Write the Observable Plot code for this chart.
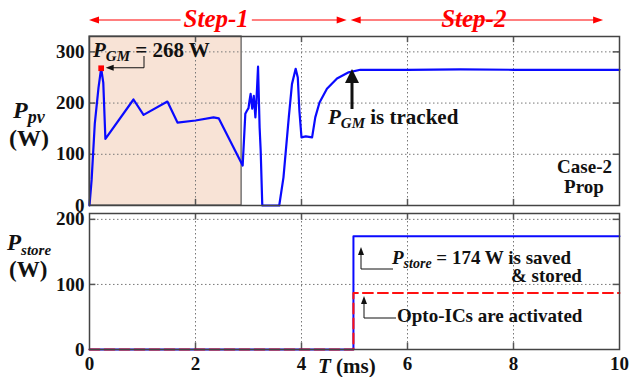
<!DOCTYPE html>
<html><head><meta charset="utf-8">
<script src="https://cdn.jsdelivr.net/npm/d3@7"></script>
<script src="https://cdn.jsdelivr.net/npm/@observablehq/plot@0.6"></script>
<style>
body{margin:0;background:#fff;}
#wrap{position:relative;width:631px;height:377px;overflow:hidden;background:#fff;font-family:"Liberation Serif","Times New Roman",serif;}
#wrap svg{position:absolute;left:0;}
</style></head><body><div id="wrap"></div>
<script>
// ---- data ----
const ppvTime  = [0, 0.04, 0.10, 0.17, 0.22, 0.26, 0.30, 0.83, 1.02, 1.47, 1.66, 2.00, 2.34, 2.44, 2.89, 2.94, 2.97, 3.00, 3.02, 3.04, 3.07, 3.10, 3.13, 3.15, 3.18, 3.21, 3.23, 3.26, 3.58, 3.66, 3.76, 3.82, 3.89, 3.93, 3.96, 4.00, 4.08, 4.20, 4.26, 4.34, 4.48, 4.67, 4.89, 5.11, 6, 7, 8, 9, 10];
const ppvPower = [0, 50, 160, 230, 268, 240, 130, 207, 177, 203, 162, 166, 172, 170, 78, 179, 185, 190, 205, 218, 189, 214, 172, 205, 271, 152, 107, 0, 0, 55, 172, 237, 267, 250, 185, 133, 135, 133, 172, 201, 228, 248, 260, 265, 265, 266, 265, 265, 265];
const peakTime = [0.22];
const peakPower = [268];
const storeTime = [0, 4.98, 10];
const storeSaved = [0, 174, 174];
const storeOpto = [0, 87, 87];
const step1Shade = [0, 2.87];
const xTicks = [0, 2, 4, 6, 8, 10];
const ppvTicks = [0, 100, 200, 300];
const storeTicks = [0, 100, 200];
const stepBoundary = 4.9;

const wrap = document.getElementById("wrap");
const font = {fontFamily:"'Liberation Serif','Times New Roman',serif",fontWeight:"bold",fontSize:"19px",color:"#111",background:"transparent",overflow:"visible"};
const grid = {stroke:"#777",strokeDasharray:"1.5,2.5",strokeWidth:1};
const tk = {stroke:"#555",strokeWidth:1.5};

function innerTicks(xMax, yMax, yTicks, dx, dy) {
  const inner = xTicks.slice(1,-1), yin = yTicks.slice(1).filter(v=>v<yMax);
  return [
    Plot.ruleX(inner, {y1:0, y2:dy, ...tk}),
    Plot.ruleX(inner, {y1:yMax-dy, y2:yMax, ...tk}),
    Plot.ruleY(yin, {x1:0, x2:dx, ...tk}),
    Plot.ruleY(yin, {x1:xMax-dx, x2:xMax, ...tk})
  ];
}

const topData = ppvTime.map((t,i)=>({t, p:ppvPower[i]}));
const topPlot = Plot.plot({
  width:631, height:215, marginLeft:89, marginRight:12, marginTop:36, marginBottom:10,
  style:font,
  x:{domain:[0,10], axis:null},
  y:{domain:[0,330], ticks:ppvTicks, tickSize:0, tickPadding:5, label:null},
  marks:[
    Plot.rect([{a:step1Shade[0], b:step1Shade[1]}], {x1:"a", x2:"b", y1:0, y2:330, fill:"#f8e3d6", stroke:"#555", strokeWidth:1.2}),
    Plot.ruleX(xTicks.slice(1,-1), grid),
    Plot.ruleY(ppvTicks.slice(1), grid),
    ...innerTicks(10, 330, ppvTicks, 0.12, 12),
    Plot.line(topData, {x:"t", y:"p", stroke:"#0a0aff", strokeWidth:2.2}),
    Plot.dot(peakTime.map((t,i)=>({t, p:peakPower[i]})), {x:"t", y:"p", symbol:"square", fill:"#ff0000", r:3.2}),
    Plot.frame({stroke:"#444", strokeWidth:1.5})
  ]
});
topPlot.style.top = "0px";
wrap.appendChild(topPlot);

const saved = storeTime.map((t,i)=>({t, p:storeSaved[i]}));
const opto = storeTime.map((t,i)=>({t, p:storeOpto[i]}));
const botPlot = Plot.plot({
  width:631, height:172, marginLeft:89, marginRight:12, marginTop:8, marginBottom:28,
  style:font,
  x:{domain:[0,10], ticks:xTicks, tickSize:0, tickPadding:7, label:null},
  y:{domain:[0,209], ticks:storeTicks, tickSize:0, tickPadding:5, label:null},
  marks:[
    Plot.ruleX(xTicks.slice(1,-1), grid),
    Plot.ruleY(storeTicks.slice(1), grid),
    ...innerTicks(10, 209, storeTicks, 0.12, 10),
    Plot.line(saved, {x:"t", y:"p", curve:"step-after", stroke:"#0a0aff", strokeWidth:2}),
    Plot.line(opto, {x:"t", y:"p", curve:"step-after", stroke:"#ff1010", strokeWidth:2, strokeDasharray:"10,5"}),
    Plot.frame({stroke:"#444", strokeWidth:1.5})
  ]
});
botPlot.style.top = "205px";
wrap.appendChild(botPlot);

// ---- annotation overlay ----
const xs = topPlot.scale("x"), ys = topPlot.scale("y");
const ov = d3.select(wrap).append("svg").attr("width",631).attr("height",377).style("top","0px")
  .style("font-family","'Liberation Serif','Times New Roman',serif").style("font-weight","bold");

function label(x, y, parts, size, opts={}) {
  const t = ov.append("text").attr("x",x).attr("y",y).attr("font-size",size)
    .attr("fill",opts.fill||"#111").attr("text-anchor",opts.anchor||"start");
  let shifted = 0;
  for (const p of parts) {
    const s = t.append("tspan").text(p.s);
    if (p.i) s.attr("font-style","italic");
    if (p.sub) { s.attr("font-size",p.sub).attr("dy",p.dy); shifted = p.dy; }
    else if (shifted) { s.attr("dy",-shifted); shifted = 0; }
  }
  return t;
}
function head(tx, ty, dir, len, hw, color) {
  let pts;
  if (dir==="left") pts = [[tx,ty],[tx+len,ty-hw],[tx+len,ty+hw]];
  else if (dir==="right") pts = [[tx,ty],[tx-len,ty-hw],[tx-len,ty+hw]];
  else pts = [[tx,ty],[tx-hw,ty+len],[tx+hw,ty+len]];
  ov.append("polygon").attr("points",pts.map(p=>p.join(",")).join(" ")).attr("fill",color);
}

// Step arrows
const yStep = 20;
const bx = xs.apply(stepBoundary);
function stepArrow(x1, x2, txt, tx) {
  ov.append("line").attr("x1",x1+6).attr("x2",x2-6).attr("y1",yStep).attr("y2",yStep).attr("stroke","#ff0000").attr("stroke-width",1.2);
  head(x1, yStep, "left", 10, 3.5, "#ff0000");
  head(x2, yStep, "right", 10, 3.5, "#ff0000");
  const t = label(tx, 27, [{s:txt, i:true}], 25, {fill:"#ff0000", anchor:"middle"});
  const bb = t.node().getBBox();
  ov.insert("rect","text").attr("x",bb.x-3).attr("y",yStep-2).attr("width",bb.width+6).attr("height",4).attr("fill","#fff");
}
stepArrow(xs.apply(0), bx - 2, "Step-1", xs.apply(2.4));
stepArrow(bx + 2, xs.apply(9.7), "Step-2", xs.apply(7.26));

// P_GM = 268 W
label(93, 57, [{s:"P",i:true},{s:"GM",i:true,sub:15,dy:4},{s:" = 268 W"}], 21);
const px = xs.apply(peakTime[0]), py = ys.apply(peakPower[0]);
ov.append("path").attr("d",`M144,56V${py}H${px+12}`).attr("fill","none").attr("stroke","#111").attr("stroke-width",1);
head(px+5, py, "left", 8, 3, "#111");

// P_GM is tracked
label(328, 124, [{s:"P",i:true},{s:"GM",i:true,sub:15,dy:4},{s:" is tracked"}], 21);
ov.append("line").attr("x1",352).attr("x2",352).attr("y1",109).attr("y2",80).attr("stroke","#111").attr("stroke-width",3);
head(352, 69, "up", 14, 7, "#111");

label(612, 173, [{s:"Case-2"}], 19, {anchor:"end"});
label(584, 193, [{s:"Prop"}], 19, {anchor:"middle"});

// y-axis titles
label(13, 118, [{s:"P",i:true},{s:"pv",i:true,sub:18,dy:5}], 24);
label(9, 146, [{s:"(W)"}], 24);
label(7, 250, [{s:"P",i:true},{s:"store",i:true,sub:15,dy:5}], 23);
label(9, 277, [{s:"(W)"}], 23);

// bottom annotations
label(392, 264, [{s:"P",i:true},{s:"store",i:true,sub:14,dy:4},{s:" = 174 W is saved"}], 19);
label(511, 282, [{s:"& stored"}], 19);
label(397, 322, [{s:"Opto-ICs are activated"}], 19);
ov.append("path").attr("d","M393,269H361V254").attr("fill","none").attr("stroke","#111").attr("stroke-width",1);
head(361, 247, "up", 8, 3, "#111");
ov.append("path").attr("d","M396,318H364V303").attr("fill","none").attr("stroke","#111").attr("stroke-width",1);
head(364, 296, "up", 8, 3, "#111");

// x-axis title
label(318, 373, [{s:"T",i:true},{s:" (ms)"}], 21);
</script></body></html>
